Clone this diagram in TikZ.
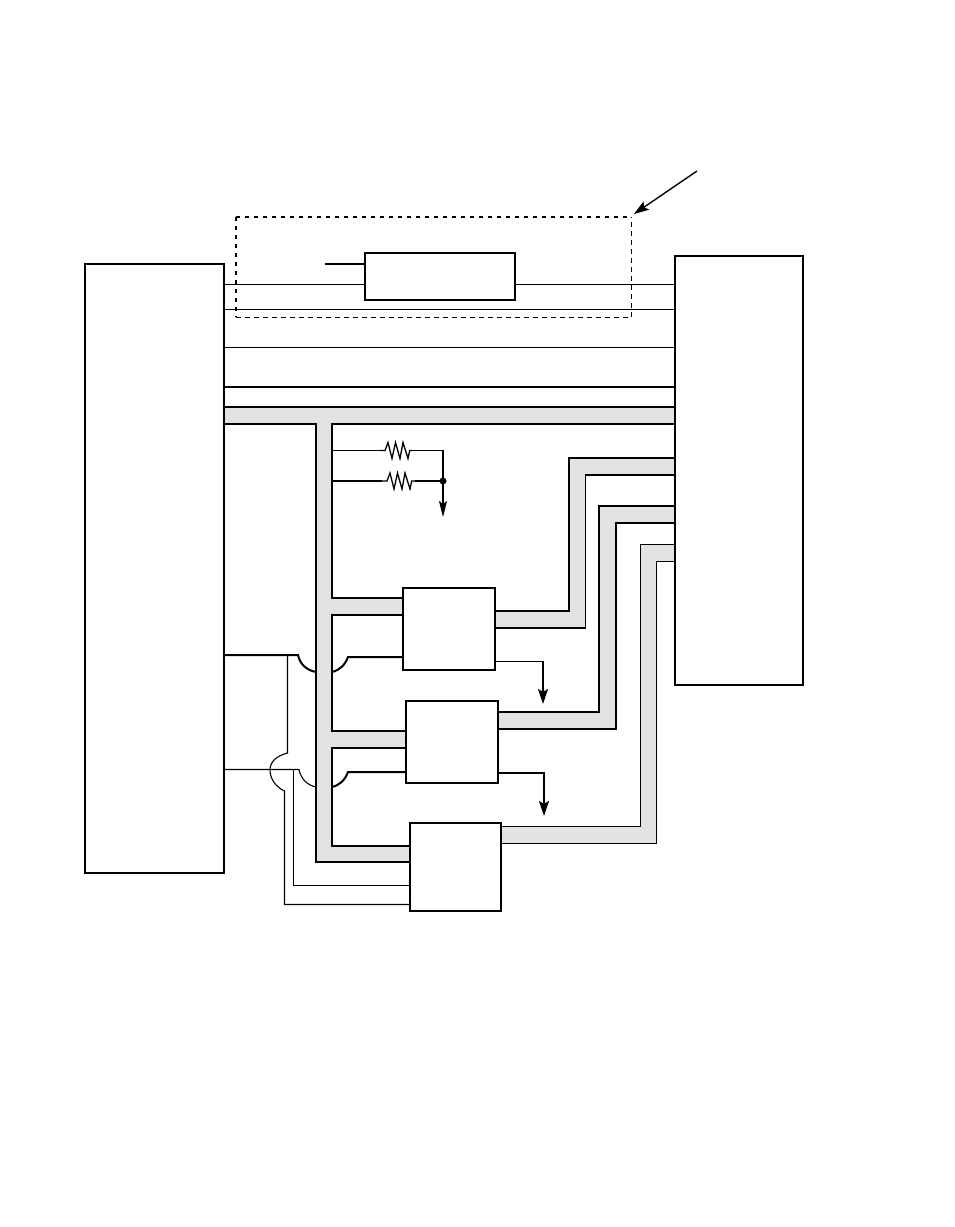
\documentclass[tikz,border=0pt]{standalone}
\usetikzlibrary{arrows.meta}
\definecolor{busgray}{gray}{0.89}
\tikzset{
    blockbox/.style={draw, fill=white, line width=1.8pt, inner sep=0pt, outer sep=0pt},
    smallbox/.style={blockbox, line width=1.5pt},
    thinwire/.style={line width=1.1pt},
    thickwire/.style={line width=2pt},
    buswire/.style={draw, fill=busgray, line width=1.6pt},
    bigarrow/.style={-{Stealth[length=15pt,width=10pt,inset=3pt]}},
    smallarrow/.style={-{Stealth[length=16pt,width=8pt,inset=3pt]}},
    resistor/.pic={
        \draw[line width=1.3pt] (0,0) -- (5,0) -- (8,-8) -- (12,8) -- (15.5,-8) -- (20,8) -- (23,-8) -- (28,8) -- (29.7,0) -- (33,0);
    }
}
\begin{document}
\begin{tikzpicture}[x=1pt,y=-1pt]
        \useasboundingbox (0,0) rectangle (954,1227);

        \coordinate (clockin) at (325,264);
        \coordinate (pointerend) at (697,171);
        \coordinate (dotjoin) at (443,481);
        \coordinate (pulldown) at (443,517);
        \coordinate (groundA) at (543,704);
        \coordinate (groundB) at (544,816);

        \draw[buswire] (224,407) -- (675,407) -- (675,424) -- (332,424) -- (332,598) -- (403,598) -- (403,615) -- (332,615) -- (332,731) -- (406,731) -- (406,748) -- (332,748) -- (332,846) -- (410,846) -- (410,862) -- (316,862) -- (316,424) -- (224,424) -- cycle;
        \draw[buswire] (495,611) -- (569,611) -- (569,458) -- (675,458) -- (675,475) -- (585.5,475) -- (585.5,628) -- (495,628) -- cycle;
        \draw[buswire] (498,712) -- (599,712) -- (599,506) -- (675,506) -- (675,523) -- (616,523) -- (616,729) -- (498,729) -- cycle;
        \draw[buswire, line width=1pt] (501,826) -- (640,826) -- (640,544) -- (675,544) -- (675,561) -- (656,561) -- (656,843) -- (501,843) -- cycle;

        \node[blockbox, minimum width=139pt, minimum height=609pt] (controller) at (154.5,568.5) {};
        \node[blockbox, minimum width=128pt, minimum height=429pt] (peripheral) at (739,470.5) {};
        \node[smallbox, minimum width=150pt, minimum height=47pt] (driver) at (440,276.5) {};
        \node[smallbox, minimum width=92pt, minimum height=82pt] (bufferA) at (449,629) {};
        \node[smallbox, line width=1.2pt, minimum width=92pt, minimum height=82pt] (bufferB) at (452,742) {};
        \node[blockbox, minimum width=91pt, minimum height=88pt] (bufferC) at (455.5,867) {};

        \draw[thinwire] (controller.east |- 0,284.5) -- (driver.west |- 0,284.5);
        \draw[thinwire] (driver.east |- 0,284.5) -- (peripheral.west |- 0,284.5);
        \draw[thinwire] (controller.east |- 0,309.5) -- (peripheral.west |- 0,309.5);
        \draw[thinwire] (controller.east |- 0,347.5) -- (peripheral.west |- 0,347.5);
        \draw[thickwire] (controller.east |- 0,387) -- (peripheral.west |- 0,387);
        \draw[thickwire] (clockin) -- (driver.west |- clockin);

        \draw[line width=2.2pt, dash pattern=on 4pt off 5pt] (236,217) -- (631,217);
        \draw[line width=2.2pt, dash pattern=on 4pt off 5pt] (236,217) -- (236,317);
        \draw[line width=1pt, dash pattern=on 5pt off 4pt] (236,317.5) -- (631,317.5) -- (631,217);
        \draw[line width=1.4pt, bigarrow] (pointerend) -- (634,214);

        \draw[thinwire] (332,450.5) -- (380,450.5);
        \pic at (380,450.5) {resistor};
        \draw[thinwire] (413,450.5) -- (443,450.5) -- (dotjoin);
        \draw[thickwire] (332,481) -- (382,481);
        \pic at (382,481) {resistor};
        \draw[thickwire] (415,481) -- (dotjoin);
        \fill (dotjoin) circle (3.5pt);
        \draw[thinwire, smallarrow] (dotjoin) -- (pulldown);

        \draw[thickwire] (controller.east |- 0,655) -- (298,655) .. controls (300,664) and (306,670) .. (316,672);
        \draw[thickwire] (bufferA.west |- 0,657) -- (348,657) .. controls (345,665) and (340,670) .. (332,672);
        \draw[thinwire] (controller.east |- 0,769.5) -- (299,769.5) .. controls (301,779) and (307,785) .. (316,787);
        \draw[thickwire] (bufferB.west |- 0,772) -- (348,772) .. controls (345,780) and (340,785) .. (332,787);

        \draw[thinwire] (287.5,655) -- (287.5,753) .. controls (276,756) and (270,762) .. (270,770) .. controls (270,779) and (276,787) .. (284.5,791) -- (284.5,904.5) -- (bufferC.west |- 0,904.5);
        \draw[thinwire] (293.5,769) -- (293.5,885.5) -- (bufferC.west |- 0,885.5);

        \draw[thinwire] (bufferA.east |- 0,661.5) -- (543,661.5);
        \draw[thickwire, bigarrow] (543,660.5) -- (groundA);
        \draw[thickwire] (bufferB.east |- 0,773) -- (544,773);
        \draw[thickwire, bigarrow] (544,772) -- (groundB);
    \end{tikzpicture}
\end{document}
